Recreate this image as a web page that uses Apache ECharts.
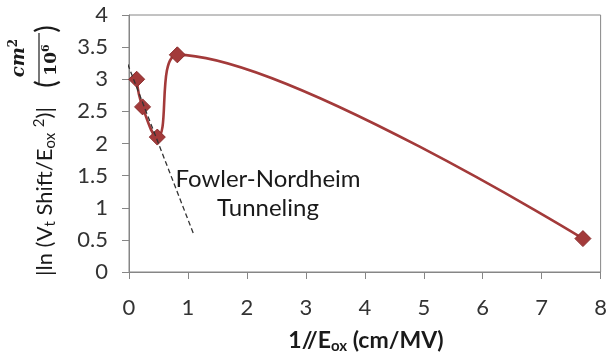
<!DOCTYPE html>
<html><head><meta charset="utf-8">
<script src="https://cdn.jsdelivr.net/npm/echarts@6/dist/echarts.min.js"></script>
<style>html,body{margin:0;padding:0;background:#fff}#c{width:610px;height:358px}</style>
</head><body><div id="c"></div>
<script>
// measured data
const xValues = [0.13, 0.23, 0.48, 0.82, 7.70];
const yValues = [3.00, 2.57, 2.10, 3.38, 0.52];
// Fowler-Nordheim guide line end points
const fnX = [-0.07, 1.10];
const fnY = [3.35, 0.58];
const xAxisRange = [0, 8, 1];
const yAxisRange = [0, 4, 0.5];
const annotation = ['Fowler-Nordheim', 'Tunneling'];
const xTitle = '1//E{s|ox} (cm/MV)';
const yTitle = '|ln (V{s|t} Shift/E{s|ox} {p|2})|';

const FONT = 'Lato';
const chart = echarts.init(document.getElementById('c'), null, {renderer: 'canvas'});
const mainData = xValues.map((x, i) => [x, yValues[i]]);
const fnData = fnX.map((x, i) => [x, fnY[i]]);
const axisCol = '#868686';
const red = '#a33a3a';

chart.setOption({
  animation: false,
  backgroundColor: '#fff',
  grid: {left: 129, right: 9, top: 15, bottom: 86, show: true, borderColor: axisCol, borderWidth: 1},
  xAxis: {
    type: 'value', min: xAxisRange[0], max: xAxisRange[1], interval: xAxisRange[2],
    axisLine: {show: true, lineStyle: {color: axisCol, width: 1}},
    axisTick: {show: true, length: 7, lineStyle: {color: axisCol}},
    splitLine: {show: false},
    axisLabel: {color: '#333', fontSize: 22, fontFamily: FONT, margin: 25}
  },
  yAxis: {
    type: 'value', min: yAxisRange[0], max: yAxisRange[1], interval: yAxisRange[2],
    axisLine: {show: true, lineStyle: {color: axisCol, width: 1}},
    axisTick: {show: true, length: 7, lineStyle: {color: axisCol}},
    splitLine: {show: false},
    axisLabel: {color: '#333', fontSize: 22, fontFamily: FONT, margin: 21}
  },
  series: [
    {
      type: 'line', data: mainData, smooth: 0.5,
      symbol: 'diamond', symbolSize: 16,
      lineStyle: {color: red, width: 2.6},
      itemStyle: {color: red, borderColor: '#8a2c2c', borderWidth: 1},
      z: 2
    },
    {
      type: 'line', data: fnData, symbol: 'none', clip: false, silent: true,
      lineStyle: {color: '#333', width: 1.3, type: [5, 3]},
      z: 3
    }
  ],
  graphic: [
    {type: 'text', x: 268, y: 194, z: 10, style: {
      text: annotation.join('\n'), font: '24px ' + FONT, fill: '#1a1a1a',
      align: 'center', verticalAlign: 'middle', lineHeight: 29}},
    {type: 'text', x: 366, y: 341, z: 10, style: {
      text: xTitle, font: 'bold 23px ' + FONT, fill: '#1a1a1a',
      align: 'center', verticalAlign: 'middle', lineHeight: 26,
      rich: {s: {font: 'bold 15px ' + FONT, fill: '#1a1a1a', verticalAlign: 'bottom'}}}},
    {type: 'text', x: 45, y: 276, rotation: Math.PI / 2, z: 10, style: {
      text: yTitle, font: '22px ' + FONT, fill: '#1a1a1a',
      align: 'left', verticalAlign: 'middle', lineHeight: 26,
      rich: {
        s: {font: '15px ' + FONT, fill: '#1a1a1a', verticalAlign: 'bottom'},
        p: {font: '15px ' + FONT, fill: '#1a1a1a', verticalAlign: 'top'}
      }}},
    {type: 'text', x: 19, y: 58, rotation: Math.PI / 2, z: 10, style: {
      text: 'cm{p|2}', font: 'bold italic 18px "DejaVu Serif"', fill: '#1a1a1a',
      align: 'center', verticalAlign: 'middle', lineHeight: 22,
      rich: {p: {font: 'bold 12px "DejaVu Serif"', fill: '#1a1a1a', verticalAlign: 'top'}}}},
    {type: 'line', z: 10, shape: {x1: 39, y1: 33, x2: 39, y2: 83}, style: {stroke: '#555', lineWidth: 1.6}},
    {type: 'text', x: 52, y: 60, rotation: Math.PI / 2, z: 10, style: {
      text: '10{p|6}', font: 'bold 17px "DejaVu Serif"', fill: '#1a1a1a',
      align: 'center', verticalAlign: 'middle', lineHeight: 22,
      rich: {p: {font: 'bold 11px "DejaVu Serif"', fill: '#1a1a1a', verticalAlign: 'top'}}}},
    {type: 'text', x: 47, y: 84, rotation: Math.PI / 2, z: 10, style: {
      text: '(', font: '28px ' + FONT, fill: '#1a1a1a', align: 'center', verticalAlign: 'middle'}},
    {type: 'text', x: 47, y: 29, rotation: Math.PI / 2, z: 10, style: {
      text: ')', font: '28px ' + FONT, fill: '#1a1a1a', align: 'center', verticalAlign: 'middle'}}
  ]
});
</script></body></html>
